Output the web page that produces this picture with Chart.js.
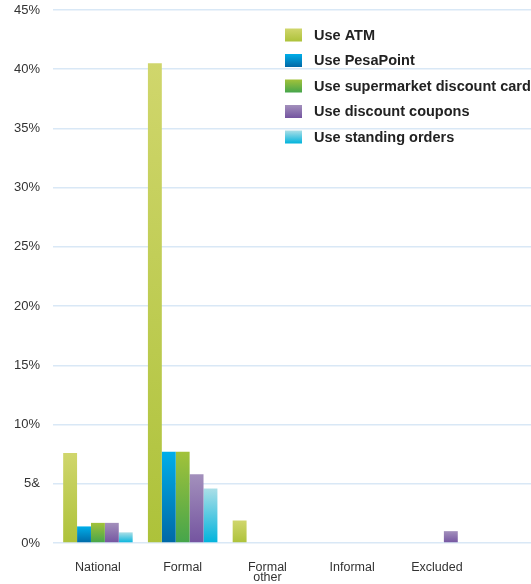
<!DOCTYPE html>
<html lang="en">
<head>
    <meta charset="UTF-8">
    <title>Payment instrument usage by group</title>
    <script src="https://cdn.jsdelivr.net/npm/chart.js"></script>
    <style>
        html, body {
            margin: 0;
            padding: 0;
            background: #fff;
        }
        .chart-container {
            position: relative;
            width: 531px;
            height: 584px;
        }
    </style>
</head>
<body>
    <div class="chart-container">
        <canvas id="usageChart"></canvas>
    </div>

    <script>
        // Groups along the x axis (second line for wrapped labels)
        const groups = ['National', 'Formal', ['Formal', 'other'], 'Informal', 'Excluded'];

        // Share of each group, in percent
        const useAtm          = [7.6, 40.5, 1.9, 0, 0];
        const usePesaPoint    = [1.4, 7.7, 0, 0, 0];
        const useSupermarket  = [1.7, 7.7, 0, 0, 0];
        const useCoupons      = [1.7, 5.8, 0, 0, 1.0];
        const useStanding     = [0.9, 4.6, 0, 0, 0];

        const seriesLabels = [
            'Use ATM',
            'Use PesaPoint',
            'Use supermarket discount card',
            'Use discount coupons',
            'Use standing orders'
        ];

        const yTickValues = [0, 5, 10, 15, 20, 25, 30, 35, 40, 45];
        const yTickLabels = ['0%', '5&', '10%', '15%', '20%', '25%', '30%', '35%', '40%', '45%'];

        // top / bottom colour of each bar gradient
        const shades = [
            ['#d0d66c', '#adc23a'],
            ['#00aee9', '#0068a6'],
            ['#a2c23a', '#45a54b'],
            ['#a390bc', '#7454a0'],
            ['#abdfe7', '#00b3dc']
        ];

        const FONT = '"Liberation Sans", Arial, sans-serif';

        function barGradient(i) {
            return function (ctx) {
                const chart = ctx.chart;
                if (!chart.chartArea || !ctx.parsed) return shades[i][1];
                const y = chart.scales.y;
                const top = y.getPixelForValue(ctx.parsed.y);
                const bottom = y.getPixelForValue(0);
                if (bottom - top < 1) return shades[i][1];
                const g = chart.ctx.createLinearGradient(0, top, 0, bottom);
                g.addColorStop(0, shades[i][0]);
                g.addColorStop(1, shades[i][1]);
                return g;
            };
        }

        // legend drawn as a list inside the plot, top right
        const insideLegend = {
            id: 'insideLegend',
            afterDatasetsDraw(chart) {
                const ctx = chart.ctx;
                const x0 = 285, y0 = 35, step = 25.5;
                ctx.save();
                ctx.font = 'bold 14.5px ' + FONT;
                ctx.textBaseline = 'middle';
                seriesLabels.forEach((label, i) => {
                    const y = y0 + i * step;
                    const g = ctx.createLinearGradient(0, y - 6.5, 0, y + 6.5);
                    g.addColorStop(0, shades[i][0]);
                    g.addColorStop(1, shades[i][1]);
                    ctx.fillStyle = g;
                    ctx.fillRect(x0, y - 6.5, 17, 13);
                    ctx.fillStyle = '#222';
                    ctx.fillText(label, x0 + 29, y + 0.5);
                });
                ctx.restore();
            }
        };

        const allSeries = [useAtm, usePesaPoint, useSupermarket, useCoupons, useStanding];

        const ctx = document.getElementById('usageChart').getContext('2d');
        new Chart(ctx, {
            type: 'bar',
            data: {
                datasets: allSeries.map((values, i) => ({
                    label: seriesLabels[i],
                    data: values.map((v, k) => ({ x: k, y: v })),
                    backgroundColor: barGradient(i),
                    borderWidth: 0,
                    barPercentage: 1,
                    categoryPercentage: 0.82
                }))
            },
            options: {
                responsive: true,
                maintainAspectRatio: false,
                animation: false,
                layout: {
                    padding: { top: 10, right: 0, bottom: 0, left: 0 }
                },
                plugins: {
                    legend: { display: false },
                    tooltip: { enabled: false }
                },
                scales: {
                    x: {
                        type: 'linear',
                        min: -0.53,
                        max: 5.11,
                        bounds: 'data',
                        offset: false,
                        grid: { display: false, drawTicks: false, offset: false },
                        border: { display: false },
                        afterBuildTicks: (scale) => {
                            scale.ticks = groups.map((_, k) => ({ value: k }));
                        },
                        afterFit: (scale) => {
                            scale.height = 41;
                            scale.paddingLeft = 0;
                            scale.paddingRight = 0;
                        },
                        ticks: {
                            autoSkip: false,
                            maxRotation: 0,
                            padding: 19,
                            color: '#333',
                            font: { family: FONT, size: 12.5, lineHeight: 0.85 },
                            callback: (v) => groups[v] !== undefined ? groups[v] : ''
                        }
                    },
                    y: {
                        min: 0,
                        max: 45,
                        afterBuildTicks: (scale) => {
                            scale.ticks = yTickValues.map(v => ({ value: v }));
                        },
                        afterFit: (scale) => {
                            scale.width = 53;
                            scale.paddingTop = 0;
                            scale.paddingBottom = 0;
                        },
                        grid: {
                            color: '#d9e8f6',
                            lineWidth: 1.5,
                            drawTicks: false
                        },
                        border: { display: false },
                        ticks: {
                            padding: 13,
                            color: '#333',
                            font: { family: FONT, size: 13 },
                            callback: (v) => yTickLabels[yTickValues.indexOf(v)]
                        }
                    }
                }
            },
            plugins: [insideLegend]
        });
    </script>
</body>
</html>
